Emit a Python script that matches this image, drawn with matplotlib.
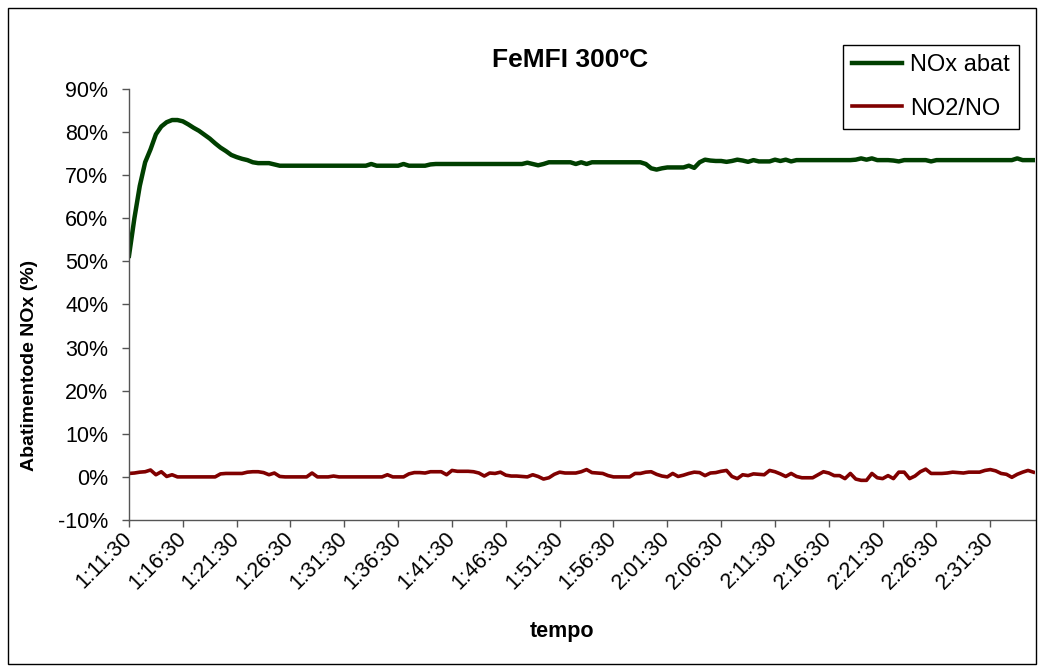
import matplotlib
matplotlib.use("Agg")
import matplotlib.pyplot as plt
from matplotlib.patches import Rectangle

plt.rcParams['font.family'] = ['Liberation Sans', 'DejaVu Sans']

# Samples every 30 s from 1:11:30 to 2:35:30 (values in %)
nox_abat = [
    51.3, 60.0, 67.5, 73.0, 76.0, 79.5, 81.3, 82.3, 82.8, 82.8,
    82.5, 81.8, 81.0, 80.3, 79.4, 78.5, 77.4, 76.4, 75.6, 74.7,
    74.2, 73.8, 73.5, 73.0, 72.8, 72.8, 72.8, 72.5, 72.2, 72.2,
    72.2, 72.2, 72.2, 72.2, 72.2, 72.2, 72.2, 72.2, 72.2, 72.2,
    72.2, 72.2, 72.2, 72.2, 72.2, 72.6, 72.2, 72.2, 72.2, 72.2,
    72.2, 72.6, 72.2, 72.2, 72.2, 72.2, 72.5, 72.6, 72.6, 72.6,
    72.6, 72.6, 72.6, 72.6, 72.6, 72.6, 72.6, 72.6, 72.6, 72.6,
    72.6, 72.6, 72.6, 72.6, 72.9, 72.6, 72.3, 72.6, 73.0, 73.0,
    73.0, 73.0, 73.0, 72.6, 73.0, 72.6, 73.0, 73.0, 73.0, 73.0,
    73.0, 73.0, 73.0, 73.0, 73.0, 73.0, 72.6, 71.6, 71.3, 71.6,
    71.8, 71.8, 71.8, 71.8, 72.2, 71.7, 73.0, 73.6, 73.4, 73.3,
    73.3, 73.1, 73.3, 73.6, 73.4, 73.1, 73.5, 73.2, 73.2, 73.2,
    73.6, 73.3, 73.6, 73.2, 73.5, 73.5, 73.5, 73.5, 73.5, 73.5,
    73.5, 73.5, 73.5, 73.5, 73.5, 73.6, 73.9, 73.6, 73.9, 73.5,
    73.5, 73.5, 73.4, 73.2, 73.5, 73.5, 73.5, 73.5, 73.5, 73.2,
    73.5, 73.5, 73.5, 73.5, 73.5, 73.5, 73.5, 73.5, 73.5, 73.5,
    73.5, 73.5, 73.5, 73.5, 73.5, 73.9, 73.5, 73.5, 73.5,
]

no2_no = [
    0.8, 0.9, 1.1, 1.2, 1.6, 0.5, 1.2, 0.1, 0.5, 0.0,
    0.0, 0.0, 0.0, 0.0, 0.0, 0.0, 0.0, 0.7, 0.8, 0.8,
    0.8, 0.8, 1.1, 1.2, 1.2, 1.0, 0.5, 0.9, 0.1, 0.0,
    0.0, 0.0, 0.0, 0.0, 0.9, 0.0, 0.0, 0.0, 0.2, 0.0,
    0.0, 0.0, 0.0, 0.0, 0.0, 0.0, 0.0, 0.0, 0.5, 0.0,
    0.0, 0.0, 0.7, 1.0, 1.0, 0.9, 1.2, 1.2, 1.2, 0.5,
    1.5, 1.3, 1.3, 1.3, 1.2, 0.9, 0.2, 0.9, 0.8, 1.1,
    0.4, 0.2, 0.2, 0.1, 0.0, 0.5, 0.1, -0.5, -0.2, 0.6,
    1.1, 0.9, 0.9, 0.9, 1.2, 1.7, 1.0, 0.9, 0.8, 0.3,
    0.0, 0.0, 0.0, 0.0, 0.8, 0.8, 1.1, 1.2, 0.6, 0.2,
    0.0, 0.8, 0.1, 0.4, 0.8, 1.1, 1.0, 0.3, 0.9, 1.0,
    1.3, 1.5, 0.1, -0.4, 0.5, 0.3, 0.7, 0.6, 0.5, 1.5,
    1.2, 0.7, 0.1, 0.8, 0.1, -0.2, -0.2, -0.2, 0.5, 1.2,
    0.9, 0.3, 0.3, -0.4, 0.8, -0.5, -0.8, -0.8, 0.8, -0.2,
    -0.4, 0.3, -0.4, 1.1, 1.1, -0.4, 0.2, 1.2, 1.8, 0.8,
    0.8, 0.8, 0.9, 1.1, 1.0, 0.9, 1.1, 1.1, 1.1, 1.5,
    1.7, 1.4, 0.8, 0.6, -0.1, 0.6, 1.1, 1.5, 1.1,
]

tick_labels = ["1:11:30", "1:16:30", "1:21:30", "1:26:30", "1:31:30",
               "1:36:30", "1:41:30", "1:46:30", "1:51:30", "1:56:30",
               "2:01:30", "2:06:30", "2:11:30", "2:16:30", "2:21:30",
               "2:26:30", "2:31:30"]
samples_per_tick = 10

W, H = 1040, 670
fig = plt.figure(figsize=(W / 100, H / 100), dpi=100)
ax = fig.add_axes([129 / W, 1 - 520 / H, (1035 - 129) / W, (520 - 89) / H])

x = list(range(len(nox_abat)))
ax.plot(x, nox_abat, color='#003f00', lw=3.2, label='NOx abat', solid_joinstyle='round')
ax.plot(x, no2_no, color='#800000', lw=2.6, label='NO2/NO', solid_joinstyle='round')

ax.set_xlim(0, len(nox_abat) - 1 + 0.3)
ax.set_ylim(-10, 90)
ax.set_yticks(range(-10, 91, 10))
ax.set_yticklabels([f"{v}%" for v in range(-10, 91, 10)])
ax.set_xticks([i * samples_per_tick for i in range(len(tick_labels))])
ax.set_xticklabels(tick_labels, rotation=45, ha='right', va='center',
                   rotation_mode='anchor')

for s in ['top', 'right']:
    ax.spines[s].set_visible(False)
for s in ['left', 'bottom']:
    ax.spines[s].set_color('#555555')
    ax.spines[s].set_linewidth(1.0)
ax.tick_params(axis='both', direction='out', length=5, width=1.0,
               color='#555555', labelsize=15.5)
ax.tick_params(axis='y', pad=10)
ax.tick_params(axis='x', pad=6)

fig.text(570 / W, 1 - 60 / H, 'FeMFI 300ºC', ha='center', va='center',
         fontsize=19, fontweight='bold')
fig.text(30 / W, 1 - 365 / H, 'Abatimentode NOx (%)', ha='center', va='center',
         rotation=90, fontsize=14, fontweight='bold')
fig.text(562 / W, 1 - 632 / H, 'tempo', ha='center', va='center',
         fontsize=15.5, fontweight='bold')

leg = ax.legend(loc='upper left', bbox_to_anchor=(843 / W, 1 - 45 / H),
                bbox_transform=fig.transFigure, borderaxespad=0,
                fontsize=17, frameon=True, fancybox=False, framealpha=1,
                edgecolor='black', handlelength=2.1, handletextpad=0.35,
                borderpad=0.4, labelspacing=0.9)
leg.get_frame().set_linewidth(1.0)

fig.patches.append(Rectangle((8 / W, 1 - 664 / H), (1036 - 8) / W, (664 - 8) / H,
                             transform=fig.transFigure, fill=False,
                             edgecolor='black', lw=1.0))

fig.savefig('out.png', dpi=100)
